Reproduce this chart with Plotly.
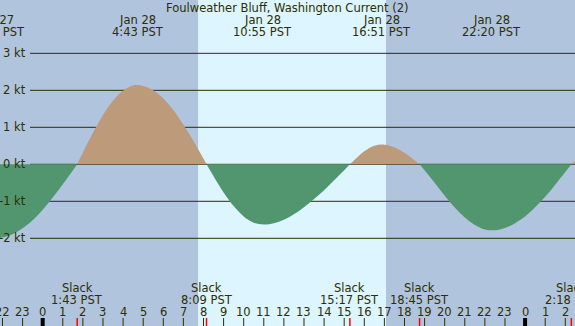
import plotly.graph_objects as go

# ---- data (hours relative to Jan 28 00:00 PST) ----
sample_hours = [-2.5 + 0.5 * i for i in range(59)]
speeds_kt = [-2.00, -1.98, -1.89, -1.73, -1.51, -1.23, -0.90, -0.54, -0.17,
             0.32, 0.85, 1.33, 1.72, 1.99, 2.13, 2.12, 2.00, 1.78, 1.47, 1.07, 0.63, 0.15,
             -0.32, -0.76, -1.13, -1.41, -1.58, -1.63, -1.59, -1.50, -1.35, -1.16, -0.94,
             -0.70, -0.43, -0.16,
             0.11, 0.35, 0.50, 0.53, 0.46, 0.31, 0.11,
             -0.16, -0.50, -0.85, -1.17, -1.44, -1.64, -1.76, -1.78, -1.72, -1.59, -1.41,
             -1.16, -0.88, -0.55, -0.21,
             0.10]

slack_hours = [1.717, 8.15, 15.283, 18.75, 26.3]
slack_labels = ["1:43 PST", "8:09 PST", "15:17 PST", "18:45 PST", "2:18 PST"]

max_hours = [-2.37, 4.717, 10.917, 16.85, 22.333]
max_dates = ["Jan 27", "Jan 28", "Jan 28", "Jan 28", "Jan 28"]
max_labels = ["21:38 PST", "4:43 PST", "10:55 PST", "16:51 PST", "22:20 PST"]

sunrise_hour = 7.73
sunset_hour = 17.08

hour_ticks = list(range(-2, 27))
hour_tick_labels = [str(h % 24) for h in hour_ticks]

y_ticks = [-2, -1, 0, 1, 2, 3]
y_tick_labels = ["-2 kt", "-1 kt", "0 kt", "1 kt", "2 kt", "3 kt"]

title = "Foulweather Bluff, Washington Current (2)"

# ---- styling ----
W, H = 575, 326
NIGHT = "#B0C4DE"
DAY = "#DCF5FE"
FLOOD = "#BD9A7A"
EBB = "#52966F"
INK = "#2E2E00"
FONT = "DejaVu Sans"
FS = 11.5

X_RANGE = [-2.124, 26.483]
Y_RANGE = [-4.370, 4.441]


def xpaper(t):
    # position on the paper for an x-axis value (lets labels hang past the plot edge)
    return (t - X_RANGE[0]) / (X_RANGE[1] - X_RANGE[0])


fig = go.Figure()

# build lobes between slack points
pts = sorted(list(zip(sample_hours, speeds_kt)) + [(t, 0.0) for t in slack_hours])
lobes = []
cur = []
slack_set = set(slack_hours)
for t, v in pts:
    cur.append((t, v))
    if t in slack_set:
        lobes.append(cur)
        cur = [(t, v)]
lobes.append(cur)

for lobe in lobes:
    xs = [p[0] for p in lobe]
    ys = [p[1] for p in lobe]
    color = FLOOD if sum(ys) > 0 else EBB
    fig.add_trace(go.Scatter(x=xs, y=ys, mode="lines", line=dict(width=0, shape="spline", smoothing=1.0),
                             fill="tozeroy", fillcolor=color, hoverinfo="skip", showlegend=False))

shapes = []
# daylight band
shapes.append(dict(type="rect", xref="x", yref="paper", x0=sunrise_hour, x1=sunset_hour, y0=0, y1=1,
                   fillcolor=DAY, line=dict(width=0), layer="below"))
# horizontal grid lines
for yv in y_ticks:
    shapes.append(dict(type="line", xref="paper", yref="y", x0=30 / W, x1=1, y0=yv, y1=yv,
                       line=dict(color=INK, width=1), layer="below"))
# hour ticks
for h in hour_ticks:
    mid = (h % 24 == 0)
    shapes.append(dict(type="line", xref="x", yref="paper", x0=h, x1=h, y0=0, y1=8 / H,
                       line=dict(color="#000000" if mid else INK, width=4 if mid else 1)))
# slack ticks
for t in slack_hours:
    shapes.append(dict(type="line", xref="x", yref="paper", x0=t, x1=t, y0=0, y1=8 / H,
                       line=dict(color="#FF0000", width=1.5)))

ann = []


def py(p):
    return 1 - p / H


def txt(text, x, y, yref="paper", xanchor="center"):
    return dict(text=text, x=x, xref="paper", y=y, yref=yref, showarrow=False,
                xanchor=xanchor, yanchor="middle", font=dict(family=FONT, size=FS, color=INK))


ann.append(txt(title, 0.5, py(8)))
for t, d, lab in zip(max_hours, max_dates, max_labels):
    ann.append(txt(d, xpaper(t), py(20)))
    ann.append(txt(lab, xpaper(t), py(32)))
for t, lab in zip(slack_hours, slack_labels):
    ann.append(txt("Slack", xpaper(t), py(288)))
    ann.append(txt(lab, xpaper(t), py(300)))
for h, lab in zip(hour_ticks, hour_tick_labels):
    ann.append(txt(lab, xpaper(h), py(311.5)))
for yv, lab in zip(y_ticks, y_tick_labels):
    ann.append(txt(lab, 28 / W, yv, yref="y", xanchor="right"))

fig.update_layout(
    width=W, height=H, margin=dict(l=0, r=0, t=0, b=0, pad=0),
    paper_bgcolor=NIGHT, plot_bgcolor=NIGHT,
    xaxis=dict(range=X_RANGE, visible=False, fixedrange=True),
    yaxis=dict(range=Y_RANGE, visible=False, fixedrange=True),
    shapes=shapes, annotations=ann, showlegend=False,
)
fig.write_html("out.html", config={"displayModeBar": False},
               post_script="document.body.style.margin='0';document.body.style.overflow='hidden';")
